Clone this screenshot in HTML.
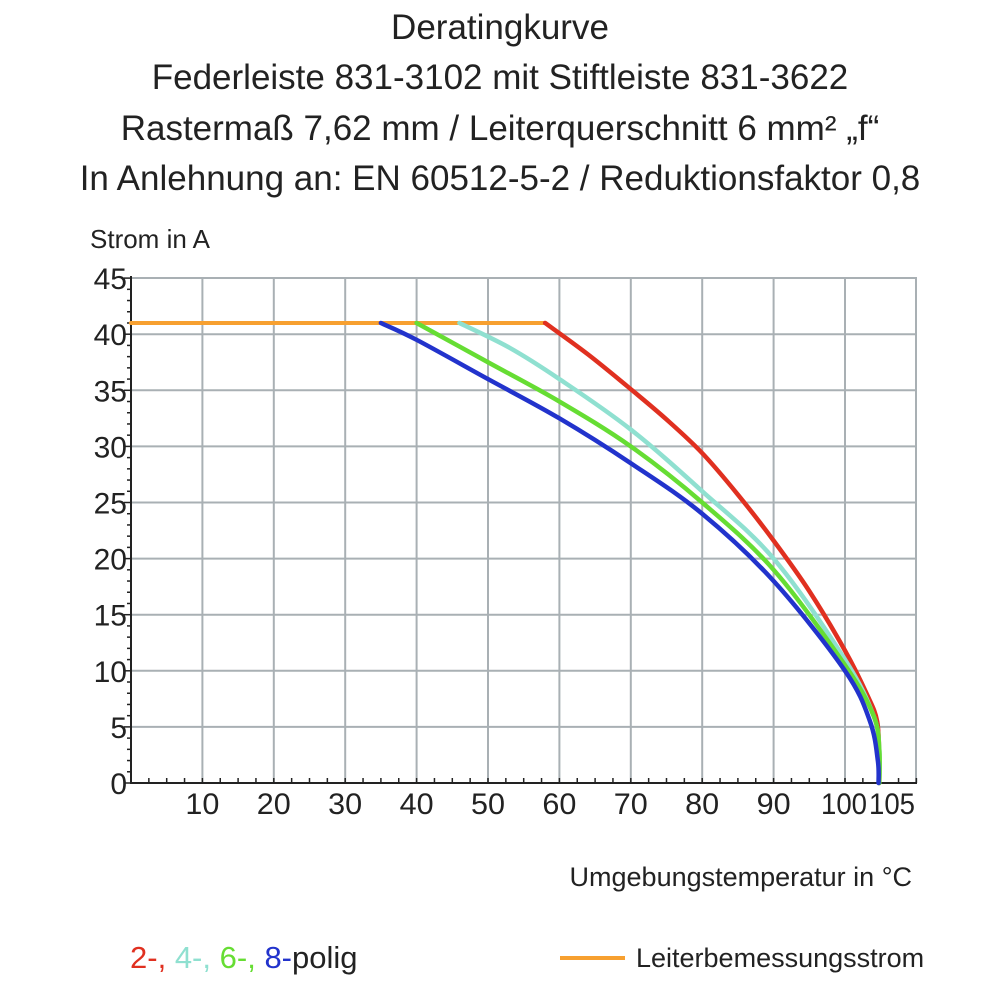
<!DOCTYPE html>
<html><head><meta charset="utf-8"><style>
body{margin:0;background:#fff}
svg text{font-family:"Liberation Sans",sans-serif;fill:#222}
</style></head><body>
<svg id="s" width="1000" height="1000" xmlns="http://www.w3.org/2000/svg">
<g font-size="35" text-anchor="middle">
<text x="500" y="39">Deratingkurve</text>
<text x="500" y="89">Federleiste 831-3102 mit Stiftleiste 831-3622</text>
<text x="500" y="140">Rastermaß 7,62 mm / Leiterquerschnitt 6 mm² „f“</text>
<text x="500" y="190">In Anlehnung an: EN 60512-5-2 / Reduktionsfaktor 0,8</text>
</g>
<text x="90" y="248" font-size="26">Strom in A</text>
<g id="grid" stroke="#a9b0b4" stroke-width="2"></g>
<g id="ax" stroke="#222" stroke-width="2"></g>
<g id="lbl" font-size="30"></g>
<g id="curves" fill="none" stroke-width="4.5" stroke-linejoin="round" stroke-linecap="round"></g>
<text x="912" y="886" font-size="27" text-anchor="end">Umgebungstemperatur in °C</text>
<text x="130" y="968" font-size="31"><tspan fill="#e03020">2-,</tspan> <tspan fill="#8fe0d0">4-,</tspan> <tspan fill="#66dd33">6-,</tspan> <tspan fill="#2233cc">8-</tspan>polig</text>
<line x1="560" y1="958" x2="625" y2="958" stroke="#f7a030" stroke-width="4"/>
<text x="636" y="967" font-size="27">Leiterbemessungsstrom</text>
</svg>
<script>
const NS="http://www.w3.org/2000/svg";
const X=t=>131+7.14*t, Y=i=>783-11.22*i;
function el(p,tag,a,txt){const e=document.createElementNS(NS,tag);for(const k in a)e.setAttribute(k,a[k]);if(txt!==undefined)e.textContent=txt;document.getElementById(p).appendChild(e);return e;}
el("grid","rect",{x:131,y:278,width:785,height:505,fill:"#fff",stroke:"#a9b0b4"});
for(let t=10;t<=100;t+=10)el("grid","line",{x1:X(t),y1:278,x2:X(t),y2:783});
for(let i=5;i<=40;i+=5)el("grid","line",{x1:131,y1:Y(i),x2:916,y2:Y(i)});
el("ax","line",{x1:131,y1:276,x2:131,y2:784});
el("ax","line",{x1:130,y1:783,x2:917,y2:783});
for(let i=0;i<=45;i++){const l=i%5==0?7:4;el("ax","line",{x1:131-l,y1:Y(i),x2:131,y2:Y(i),"stroke-width":1.5});}
for(let t=0;t<=110;t+=2.5)el("ax","line",{x1:X(t),y1:783,x2:X(t),y2:778,"stroke-width":1.5});
for(let i=0;i<=45;i+=5)el("lbl","text",{x:127,y:Y(i)+11,"text-anchor":"end"},i);
for(let t=10;t<=90;t+=10)el("lbl","text",{x:X(t),y:814,"text-anchor":"middle",textLength:34,lengthAdjust:"spacingAndGlyphs"},t);
el("lbl","text",{x:821,y:814,textLength:46,lengthAdjust:"spacingAndGlyphs"},100);
el("lbl","text",{x:869,y:814,textLength:46,lengthAdjust:"spacingAndGlyphs"},105);
function smooth(pts){const P=pts.map(p=>[X(p[0]),Y(p[1])]);let d="M"+P[0];for(let i=0;i<P.length-1;i++){const p0=P[i-1]||P[i],p1=P[i],p2=P[i+1],p3=P[i+2]||P[i+1];const c1=[p1[0]+(p2[0]-p0[0])/6,p1[1]+(p2[1]-p0[1])/6],c2=[p2[0]-(p3[0]-p1[0])/6,p2[1]-(p3[1]-p1[1])/6];d+="C"+c1+" "+c2+" "+p2;}return d;}
const C={"#e03020":[[58,41],[64,38.2],[70,35.1],[75,32.4],[80,29.4],[85,25.7],[90,21.6],[95,17.1],[100,11.8],[103,8],[104.5,5.5],[104.8,2],[104.8,0]],
"#8fe0d0":[[46,41],[53,38.8],[60,36],[70,31.5],[80,26],[90,20],[100,11],[104,6],[104.8,3],[104.8,0]],
"#66dd33":[[40,41],[50,37.5],[60,34],[70,30],[80,25],[90,19],[100,10.5],[104,6],[104.8,3],[104.8,0]],
"#2233cc":[[35,41],[40,39.5],[50,36],[60,32.5],[70,28.5],[80,24],[90,18],[100,10],[103.5,5.5],[104.6,2],[104.7,0]]};
el("curves","line",{x1:131,y1:Y(41),x2:X(58),y2:Y(41),stroke:"#f7a030",fill:"none","stroke-width":4});
for(const c of ["#2233cc","#66dd33","#8fe0d0","#e03020"].reverse())el("curves","path",{d:smooth(C[c]),stroke:c});
</script>
</body></html>
